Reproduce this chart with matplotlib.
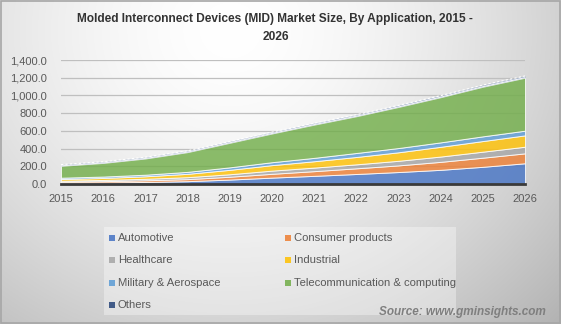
import numpy as np
import matplotlib
matplotlib.use("Agg")
import matplotlib.pyplot as plt
from matplotlib.patches import Rectangle

years = [2015, 2016, 2017, 2018, 2019, 2020, 2021, 2022, 2023, 2024, 2025, 2026]
automotive = [12, 17, 23, 32, 50, 72, 92, 113, 135, 160, 194, 234]
consumer = [13, 15, 19, 23, 32, 43, 53, 64, 75, 90, 103, 112]
healthcare = [12, 14, 17, 22, 28, 36, 40, 45, 52, 60, 68, 75]
industrial = [19, 22, 28, 38, 50, 62, 72, 83, 96, 110, 120, 128]
military = [15, 16, 18, 22, 28, 33, 38, 45, 48, 50, 53, 53]
telecom = [134, 154, 183, 223, 277, 324, 375, 415, 464, 510, 560, 598]
others = [14, 14, 15, 15, 16, 16, 17, 17, 18, 18, 19, 20]

series_names = ["Automotive", "Consumer products", "Healthcare", "Industrial",
                "Military & Aerospace", "Telecommunication & computing", "Others"]
colors = ["#4472C4", "#ED7D31", "#A5A5A5", "#FFC000", "#5B9BD5", "#70AD47", "#264478"]
yticks = [0, 200, 400, 600, 800, 1000, 1200, 1400]

W, H = 561, 324
fig = plt.figure(figsize=(W / 100, H / 100), dpi=100)

# background gradient
bg = fig.add_axes([0, 0, 1, 1], zorder=-10)
yy, xx = np.mgrid[0:H, 0:W]
d = np.sqrt((xx - 230.0) ** 2 + ((yy - 30.0) * 1.1) ** 2)
v = 1.0 - 0.28 * np.clip(d / 440.0, 0, 1.2) ** 1.6
img = np.dstack([v, v, v])
bg.imshow(img, extent=[0, 1, 0, 1], aspect="auto", origin="upper")
bg.add_patch(Rectangle((0.001, 0.002), 0.997, 0.995, transform=bg.transAxes,
                       fill=False, edgecolor="#A6A6A6", linewidth=1.2))
bg.axis("off")

ax = fig.add_axes([61 / W, 1 - 184 / H, (525 - 61) / W, (184 - 60) / H])
ax.patch.set_alpha(0)

data = [automotive, consumer, healthcare, industrial, military, telecom]
ax.stackplot(years, *data, colors=colors[:6], alpha=0.8,
             edgecolor="white", linewidth=0.7, zorder=3)
base = np.sum(np.array(data), axis=0)
top = base + np.array(others)
ax.fill_between(years, base, top, color="#9FB0CB", linewidth=0, zorder=3)
ax.plot(years, top, color="white", linewidth=0.8, linestyle=(0, (2, 2)), zorder=4)
ax.plot(years, base, color="white", linewidth=0.6, zorder=4)

ax.set_xlim(2015, 2026)
ax.set_ylim(0, 1400)
ax.set_yticks(yticks)
ax.set_yticklabels([f"{t:,.1f}" for t in yticks])
ax.set_xticks(years)
ax.set_xticklabels([str(y) for y in years])
ax.grid(axis="y", color="#BFBFBF", linewidth=0.9, zorder=0)
ax.set_axisbelow(True)
for s in ["top", "right", "left"]:
    ax.spines[s].set_visible(False)
ax.spines["bottom"].set_color("#3A3A3A")
ax.spines["bottom"].set_linewidth(2.0)
ax.spines["bottom"].set_zorder(5)
ax.tick_params(axis="both", length=0, labelsize=8, labelcolor="#595959",
               labelfontfamily="Liberation Sans")
ax.tick_params(axis="y", pad=10)
ax.tick_params(axis="x", pad=7)

fig.text(275 / W, 1 - 19 / H,
         "Molded Interconnect Devices (MID) Market Size, By Application, 2015 -",
         ha="center", va="center", fontsize=8.6, fontweight="bold",
         color="#333333", family="Liberation Sans")
fig.text(276 / W, 1 - 37 / H, "2026", ha="center", va="center", fontsize=8.6,
         fontweight="bold", color="#333333", family="Liberation Sans")

# legend
fig.patches.append(Rectangle((104 / W, 1 - 315 / H), (456 - 104) / W, (315 - 227) / H,
                             transform=fig.transFigure, facecolor="white",
                             alpha=0.35, edgecolor="none", zorder=1))
rows = [238, 260, 283, 305]
cols = [(109, 118), (285, 294)]
for i, name in enumerate(series_names):
    r, c = i // 2, i % 2
    mx, tx = cols[c]
    yc = rows[r]
    fig.patches.append(Rectangle((mx / W, 1 - (yc + 3) / H), 6 / W, 6 / H,
                                 transform=fig.transFigure, facecolor=colors[i],
                                 alpha=0.85, edgecolor="none", zorder=2))
    fig.text(tx / W, 1 - yc / H, name, ha="left", va="center", fontsize=8.1,
             color="#595959", family="Liberation Sans", zorder=3)

fig.text(546 / W, 1 - 312 / H, "Source: www.gminsights.com", ha="right", va="center",
         fontsize=8.5, fontweight="bold", style="italic", color="#7F7F7F",
         family="Liberation Sans")

fig.savefig("out.png", dpi=100)
